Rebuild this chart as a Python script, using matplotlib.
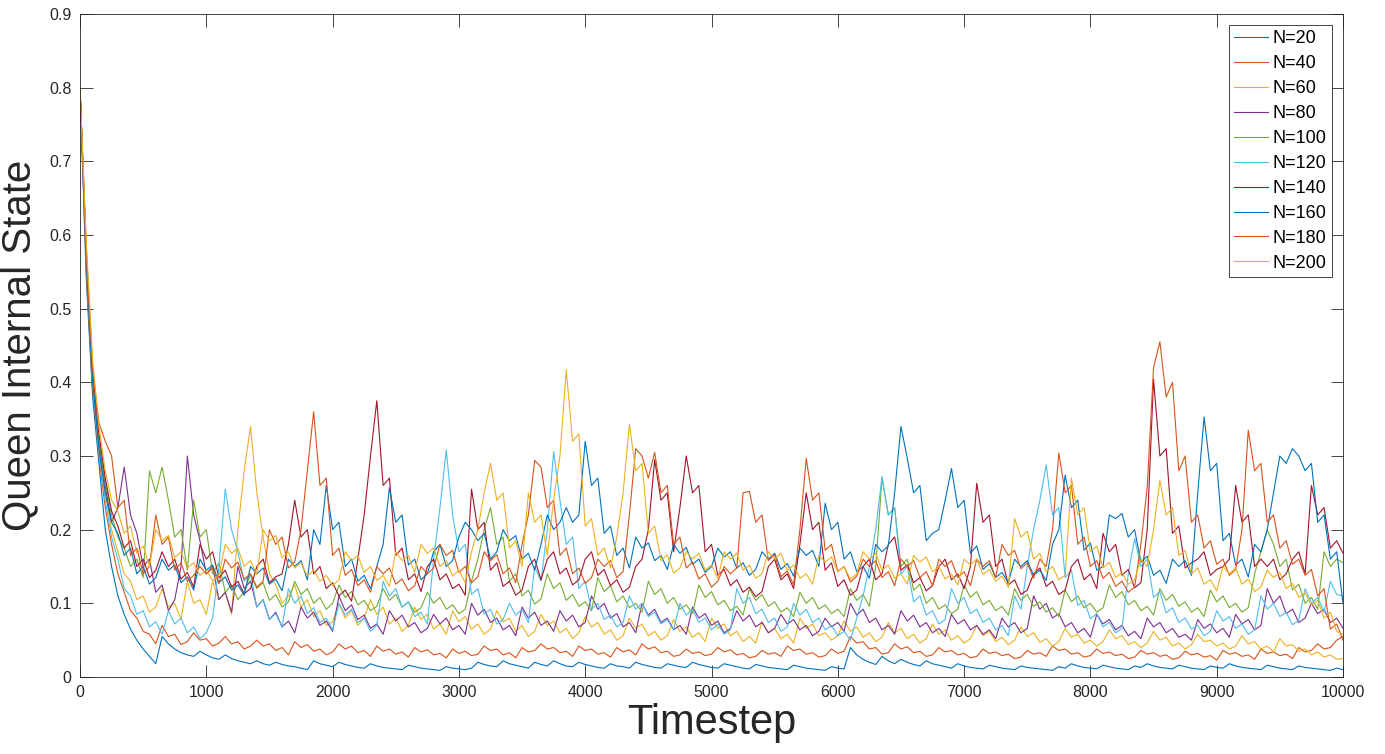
import matplotlib
matplotlib.use("Agg")
import matplotlib.pyplot as plt
import numpy as np

# timestep grid, one sample every 50 steps
timestep = np.arange(0, 10001, 50)

# queen internal state (units of 0.001)
n20 = [800,540,380,290,200,150,110,85,65,50,38,28,18,55,45,38,33,30,28,35,
       30,26,24,30,25,22,20,18,22,18,16,20,17,15,14,12,10,22,18,16,
       14,20,17,15,13,12,18,15,13,12,11,10,16,14,12,11,10,9,14,12,
       11,10,12,20,17,15,14,22,18,16,14,12,20,17,15,22,18,15,14,20,
       17,15,13,12,18,15,14,12,20,17,15,13,12,18,16,14,13,20,17,15,
       13,12,18,16,14,12,11,17,15,13,12,11,10,16,14,12,11,10,9,14,
       12,11,40,30,24,20,17,28,22,18,24,20,17,15,22,18,16,14,12,18,
       15,13,12,11,16,14,12,11,10,15,13,12,11,10,9,14,12,18,15,13,
       12,11,16,14,12,11,10,15,13,18,15,13,12,11,16,14,12,11,10,15,
       13,12,18,15,13,12,11,10,16,14,12,11,10,15,13,12,11,10,9,12,
       10]
n40 = [800,550,390,300,230,180,140,115,90,80,62,58,45,70,55,58,44,48,60,50,
       52,42,46,55,45,48,38,42,50,42,45,36,40,30,48,40,44,35,38,30,
       34,45,38,42,33,36,28,42,35,38,31,34,27,40,34,37,30,32,26,38,
       32,35,29,31,42,36,38,30,33,26,40,34,36,45,38,40,33,35,28,42,
       36,38,31,33,27,40,34,37,30,45,38,41,33,35,28,30,38,32,34,29,
       31,40,34,37,30,32,26,28,36,31,33,28,42,36,38,31,33,27,29,38,
       32,35,55,46,48,38,40,31,33,45,38,41,33,35,28,30,40,34,36,30,
       32,26,28,38,32,34,29,31,25,27,36,31,33,28,42,36,38,31,33,27,
       29,38,32,34,29,31,25,27,36,31,33,28,30,24,26,35,30,32,27,29,
       23,36,31,33,28,30,24,38,32,34,29,31,25,40,34,36,45,38,40,50,
       55]
n60 = [800,560,400,310,250,200,170,140,130,105,110,88,95,120,95,100,78,130,100,105,
       85,130,105,115,85,200,280,340,250,190,140,125,100,110,125,95,105,82,90,70,
       75,100,80,90,70,80,105,85,95,72,80,62,70,95,78,85,65,72,58,90,
       75,82,65,72,58,65,90,75,80,62,70,55,62,85,70,76,60,66,52,60,
       82,68,74,58,64,50,56,80,66,72,56,62,50,56,78,62,68,54,60,48,
       80,66,72,56,62,48,55,46,75,60,66,52,58,46,80,66,72,56,60,50,
       56,76,62,68,54,60,48,54,74,60,66,52,58,46,52,72,58,64,50,56,
       46,52,70,56,62,48,54,44,50,68,55,60,47,52,42,48,66,54,58,46,
       50,42,48,64,52,56,44,48,40,46,62,50,54,42,46,38,44,58,48,50,
       42,46,38,42,56,45,48,38,42,34,52,42,44,35,38,30,34,27,30,24,
       25]
n80 = [800,570,410,320,260,210,230,285,220,195,150,160,115,125,90,105,150,300,220,185,
       140,150,105,115,88,150,120,130,95,105,78,88,68,76,60,95,80,88,70,76,
       62,110,90,98,78,84,66,72,58,90,76,84,68,74,60,66,85,72,80,64,
       70,58,100,84,92,74,80,64,70,56,95,80,88,70,76,62,90,76,84,68,
       74,110,92,100,80,86,68,74,60,100,84,92,74,80,64,70,58,95,80,86,
       70,76,60,66,90,76,84,68,74,60,66,85,72,78,64,70,56,62,80,68,
       74,62,100,84,92,74,80,64,70,58,90,76,84,68,74,60,66,55,85,72,
       78,64,70,58,64,52,80,68,74,60,66,110,92,100,80,86,68,74,60,66,
       54,85,72,78,64,70,56,62,52,80,68,74,60,66,54,58,50,78,66,72,
       60,66,54,85,72,78,64,70,120,100,110,86,92,74,80,100,86,92,74,80,
       66]
n100 = [800,575,415,325,265,220,190,175,150,160,135,280,250,285,240,190,200,145,240,190,
        200,140,155,115,125,105,115,140,120,128,104,112,95,102,130,112,120,100,108,92,
        100,125,108,116,98,104,90,96,120,104,112,95,102,88,94,115,100,108,92,98,
        86,92,130,160,200,230,180,190,130,140,110,118,99,106,140,120,128,104,112,96,
        102,90,135,116,124,102,110,94,100,88,130,112,120,100,108,92,98,86,125,108,
        116,98,104,90,96,84,120,104,112,96,102,88,94,82,115,100,108,92,98,86,
        92,82,120,104,112,96,150,270,220,230,150,160,118,126,100,108,92,98,86,92,
        125,108,116,98,104,90,96,84,120,104,112,96,102,88,94,82,118,102,110,94,
        100,88,94,125,108,116,98,104,90,96,84,120,104,112,96,102,88,94,82,118,
        102,110,94,100,88,94,140,170,200,180,150,160,118,126,100,108,92,170,150,160,
        155]
n120 = [800,565,400,305,240,190,160,120,110,85,90,68,75,58,90,72,80,60,68,52,
        60,80,150,255,200,170,130,140,95,105,78,86,68,120,100,110,86,94,74,80,
        64,100,84,92,74,80,62,70,130,110,120,95,102,82,88,72,160,230,308,220,
        170,180,112,120,85,92,72,78,100,84,92,74,150,130,200,306,240,180,190,120,
        130,92,100,78,84,68,74,110,92,100,82,88,72,78,64,100,84,92,74,80,
        64,72,58,64,120,100,108,86,92,74,80,62,68,100,84,92,74,80,64,70,
        56,62,50,80,110,150,200,272,220,230,140,150,102,110,84,90,72,78,120,100,
        108,86,92,74,80,64,70,56,110,92,150,200,240,288,220,230,135,145,97,104,
        79,86,68,74,60,66,140,188,150,160,108,116,87,94,74,80,65,70,56,62,
        90,76,82,66,72,58,64,110,92,100,82,88,71,77,120,100,108,88,130,112,
        110]
n140 = [800,580,420,330,270,225,205,175,185,150,160,135,145,170,150,160,133,142,122,180,
        160,170,135,145,122,130,113,120,150,160,128,136,140,180,240,190,200,140,150,120,
        128,110,118,103,160,220,300,375,260,270,165,175,132,140,116,150,160,132,140,120,
        126,111,255,200,210,145,155,123,130,111,118,150,160,132,160,170,140,148,125,132,
        160,170,138,146,124,132,115,122,150,160,200,295,240,250,170,230,300,250,260,170,
        180,138,146,124,132,115,122,109,116,150,160,132,140,120,180,250,200,210,145,155,
        123,132,111,118,150,160,132,140,180,190,145,152,128,135,117,124,150,160,132,140,
        120,150,263,210,220,150,160,125,132,112,118,140,148,123,130,112,118,150,160,132,
        140,120,195,170,180,138,146,121,128,200,404,300,310,195,205,148,155,160,170,138,
        146,150,160,260,210,220,150,160,150,160,132,140,160,170,140,260,220,230,175,185,
        168]
n160 = [800,560,400,310,250,210,195,165,175,140,150,126,135,160,145,152,128,136,118,160,
        145,152,128,136,118,125,111,150,140,148,126,133,117,160,150,158,132,200,180,260,
        200,210,150,160,130,138,120,150,180,257,210,220,152,160,132,140,170,180,150,158,
        190,210,200,185,195,160,170,200,185,192,160,168,145,180,220,200,210,230,210,220,
        320,260,270,195,205,165,175,148,190,175,182,158,165,146,180,168,176,153,160,142,
        150,175,163,170,148,155,138,146,170,160,168,146,154,137,175,165,172,150,236,200,
        210,160,170,143,150,134,180,170,178,250,340,297,250,260,185,195,200,240,283,230,
        240,168,178,146,154,135,142,128,160,150,158,138,145,131,180,200,274,230,240,172,
        182,145,150,220,215,222,190,200,156,164,138,145,127,160,150,158,138,250,353,280,
        290,185,195,152,160,136,180,170,200,250,300,290,310,300,280,290,210,220,160,170,
        100]
n180 = [800,570,420,345,320,300,230,240,165,175,140,150,220,180,190,145,155,130,138,150,
        140,148,127,160,148,156,133,140,122,130,200,180,190,148,156,200,280,360,260,270,
        165,175,138,146,124,132,115,150,140,148,126,133,117,124,150,140,148,180,165,172,
        142,150,128,136,170,158,166,140,148,128,180,220,294,285,230,240,165,175,140,148,
        127,135,160,150,158,135,143,220,310,300,270,305,250,260,180,190,148,156,133,140,
        122,130,150,140,148,250,252,210,220,158,166,136,144,125,200,297,240,250,172,180,
        143,150,129,137,160,150,158,135,143,124,160,150,158,135,143,124,160,150,158,135,
        143,124,160,150,158,135,180,165,172,147,155,134,160,150,200,304,250,260,180,190,
        150,158,134,142,123,130,115,122,180,258,420,455,380,400,280,300,210,220,175,185,
        153,160,138,146,200,335,280,290,210,220,175,185,153,160,138,146,110,120,65,72,
        50]
n200 = [800,590,430,340,280,240,225,195,205,168,178,150,200,185,192,162,170,148,155,138,
        145,131,138,180,168,175,150,158,139,200,185,192,162,170,148,155,137,145,130,138,
        124,132,170,158,165,142,150,131,138,123,170,158,165,142,180,168,175,150,158,137,
        145,128,170,200,250,290,240,250,175,185,150,250,210,220,165,240,300,417,320,330,
        205,215,165,175,148,190,250,343,280,290,195,205,158,166,141,148,170,160,168,145,
        152,134,170,160,168,145,152,134,140,170,160,168,145,152,134,140,126,165,156,163,
        143,150,133,140,170,160,168,145,152,134,140,126,165,156,163,143,150,133,140,125,
        160,152,160,139,146,130,137,122,215,190,198,160,168,143,150,132,138,270,220,230,
        170,178,148,156,135,142,126,132,160,150,200,267,220,230,165,172,140,148,126,132,
        117,150,140,148,126,133,116,122,145,135,142,120,127,108,114,98,104,80,88,62,
        58]

labels = ["N=20", "N=40", "N=60", "N=80", "N=100", "N=120", "N=140", "N=160", "N=180", "N=200"]
series = [n20, n40, n60, n80, n100, n120, n140, n160, n180, n200]
colors = ["#0072BD", "#D95319", "#EDB120", "#7E2F8E", "#77AC30", "#4DBEEE", "#A2142F",
          "#0072BD", "#D95319", "#EDB120"]

plt.rcParams['font.family'] = ['Liberation Sans', 'DejaVu Sans']
axcol = "#262626"

fig = plt.figure(figsize=(13.85, 7.54), dpi=100)
ax = fig.add_axes([80/1385, 77/754, 1263/1385, 663/754])

for vals, label, c in zip(series, labels, colors):
    ax.plot(timestep, np.array(vals) / 1000, color=c, lw=0.8, label=label)

ax.set_xlim(0, 10000)
ax.set_ylim(0, 0.9)
ax.set_xticks(np.arange(0, 10001, 1000))
ax.set_yticks(np.arange(0, 0.91, 0.1))
ax.set_yticklabels([f"{v:g}" for v in np.round(np.arange(0, 0.91, 0.1), 1)])
ax.tick_params(direction='in', length=9, width=0.6, top=True, right=True,
               labelsize=11.5, colors=axcol, pad=6)
for s in ax.spines.values():
    s.set_color(axcol)
    s.set_linewidth(0.6)

ax.set_xlabel("Timestep", fontsize=30, color=axcol, labelpad=2)
ax.set_ylabel("Queen Internal State", fontsize=29, color=axcol, labelpad=8)

leg = ax.legend(loc='upper right', fontsize=13, fancybox=False, framealpha=1,
                edgecolor=axcol, borderaxespad=0.6, labelspacing=0.44,
                handlelength=1.9, handletextpad=0.25, borderpad=0.3)
leg.get_frame().set_linewidth(0.6)

fig.savefig("out.png", dpi=100)
